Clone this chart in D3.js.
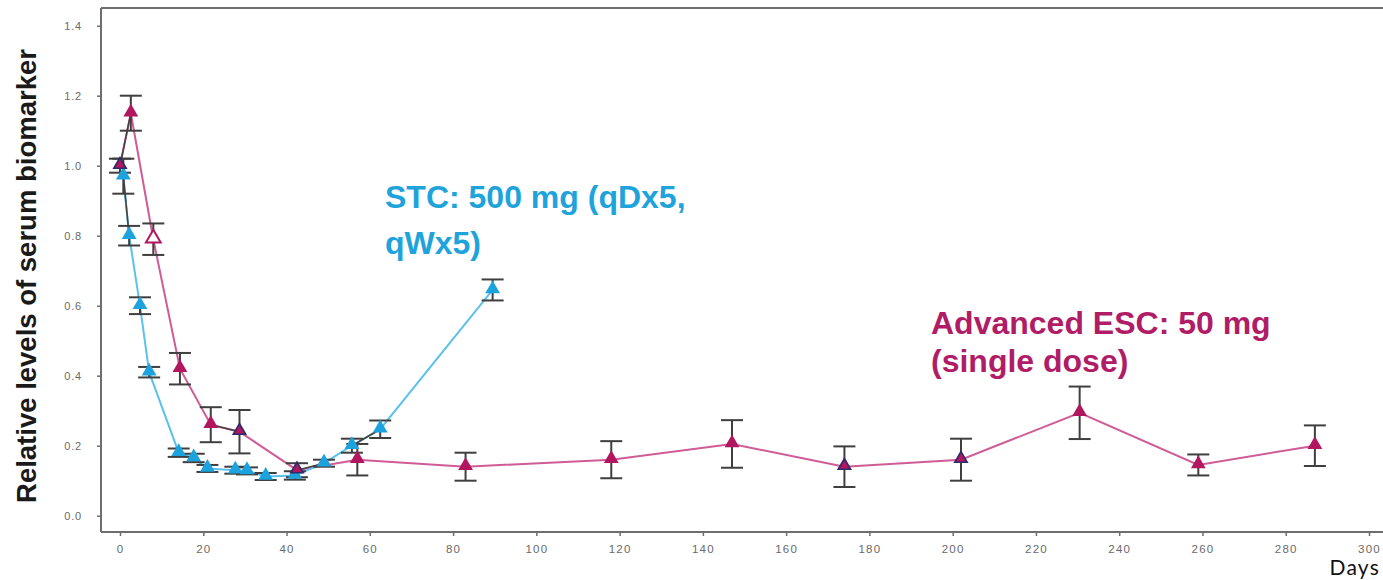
<!DOCTYPE html>
<html>
<head>
<meta charset="utf-8">
<script src="https://cdn.jsdelivr.net/npm/d3@7"></script>
<style>
  html, body { margin: 0; padding: 0; background: #fff; }
  svg { display: block; }
  .tick text { font-family: "Liberation Sans", Arial, sans-serif; fill: #6a6a6a; }
</style>
</head>
<body>
<svg id="chart" width="1383" height="580"></svg>
<script>
// Serum biomarker over time: two dosing regimens
// Advanced ESC (single 50 mg dose)
const escDays = [0, 2.6, 8, 14.4, 21.8, 28.7, 42.5, 57, 83, 118, 147, 174, 202, 230.5, 259, 287];
const escVals = [1.0, 1.15, 0.79, 0.42, 0.26, 0.24, 0.13, 0.16, 0.14, 0.16, 0.205, 0.14, 0.16, 0.294, 0.145, 0.20];
const escErr  = [0.02, 0.05, 0.045, 0.045, 0.05, 0.062, 0.02, 0.045, 0.04, 0.053, 0.068, 0.058, 0.06, 0.075, 0.03, 0.058];

// STC 500 mg (qDx5, qWx5)
const stcDays = [0.8, 2.2, 4.8, 7, 14.1, 17.7, 21, 27.7, 30.5, 35, 42, 49, 55.7, 62.5, 89.5];
const stcVals = [0.97, 0.80, 0.60, 0.41, 0.18, 0.165, 0.135, 0.13, 0.128, 0.112, 0.115, 0.15, 0.20, 0.247, 0.645];
const stcErr  = [0.05, 0.028, 0.024, 0.015, 0.012, 0.012, 0.01, 0.01, 0.01, 0.01, 0.012, 0.01, 0.02, 0.025, 0.03];

// Pooled reference segments (dark line)
const refSegDays = [[0, 2.6], [0.8, 2.2], [21.8, 28.7], [42.5, 49], [55.7, 62.5]];
const refSegVals = [[1.0, 1.15], [0.97, 0.80], [0.26, 0.24], [0.13, 0.15], [0.20, 0.247]];
// Reference points sitting beneath ESC markers
const refDays = [0, 28.7, 42.5, 174, 202];
const refVals = [1.0, 0.24, 0.13, 0.14, 0.16];

const yTicks = [0, 0.2, 0.4, 0.6, 0.8, 1.0, 1.2, 1.4];
const xTicks = d3.range(0, 301, 20);

const svg = d3.select("#chart");
const x = d3.scaleLinear().domain([0, 300]).range([120, 1369]);
const y = d3.scaleLinear().domain([0, 1.4]).range([515.7, 25.7]);

const axisColor = "#6e6e6e";
const frameLeft = 101, frameTop = 8, frameBottom = 532, frameRight = 1390;

// frame lines
svg.append("line").attr("x1", frameLeft).attr("x2", frameRight).attr("y1", frameTop).attr("y2", frameTop)
  .attr("stroke", axisColor).attr("stroke-width", 2);
svg.append("line").attr("x1", frameLeft).attr("x2", frameLeft).attr("y1", frameTop).attr("y2", frameBottom)
  .attr("stroke", axisColor).attr("stroke-width", 2);
svg.append("line").attr("x1", frameLeft).attr("x2", frameRight).attr("y1", frameBottom).attr("y2", frameBottom)
  .attr("stroke", axisColor).attr("stroke-width", 2);

// y axis
const yAxis = svg.append("g").attr("transform", `translate(${frameLeft},0)`)
  .call(d3.axisLeft(y).tickValues(yTicks).tickSize(4).tickPadding(15).tickFormat(d3.format(".1f")));
yAxis.select(".domain").remove();
yAxis.selectAll(".tick line").attr("stroke", axisColor).attr("stroke-width", 1.5);
yAxis.selectAll(".tick text").attr("font-size", 11).attr("letter-spacing", 0.8);

// x axis
const xAxis = svg.append("g").attr("transform", `translate(0,${frameBottom})`)
  .call(d3.axisBottom(x).tickValues(xTicks).tickSize(4).tickPadding(9));
xAxis.select(".domain").remove();
xAxis.selectAll(".tick line").attr("stroke", axisColor).attr("stroke-width", 1.5);
xAxis.selectAll(".tick text").attr("font-size", 11.5).attr("letter-spacing", 1.2);

// axis titles
svg.append("text")
  .attr("transform", "rotate(-90)")
  .attr("x", -276).attr("y", 36)
  .attr("text-anchor", "middle")
  .attr("font-family", "'Liberation Sans', Arial, sans-serif")
  .attr("font-weight", "bold").attr("font-size", 27.5).attr("fill", "#1a1a1a")
  .text("Relative levels of serum biomarker");

svg.append("text")
  .attr("x", 1380).attr("y", 575)
  .attr("text-anchor", "end")
  .attr("font-family", "Lato, 'Open Sans', sans-serif")
  .attr("font-size", 21).attr("letter-spacing", 1.2).attr("fill", "#111")
  .text("Days");

const escLine = "#cf5b97", escMark = "#b2165f";
const stcLine = "#5cc1ec", stcMark = "#1ca3dd";
const errColor = "#3f3f3f";
const navy = "#2f2b6b";

const toPts = (days, vals) => days.map((d, i) => ({ d, v: vals[i] }));
const esc = toPts(escDays, escVals).map((p, i) => ({ ...p, e: escErr[i] }));
const stc = toPts(stcDays, stcVals).map((p, i) => ({ ...p, e: stcErr[i] }));
const line = d3.line().x(p => x(p.d)).y(p => y(p.v));

// series lines
svg.append("path").datum(esc).attr("d", line).attr("fill", "none")
  .attr("stroke", escLine).attr("stroke-width", 2);
svg.append("path").datum(stc).attr("d", line).attr("fill", "none")
  .attr("stroke", stcLine).attr("stroke-width", 2);
refSegDays.forEach((seg, i) => {
  svg.append("path").datum(toPts(seg, refSegVals[i])).attr("d", line).attr("fill", "none")
    .attr("stroke", "#444").attr("stroke-width", 1.6);
});

// error bars
function errorBars(data) {
  const g = svg.append("g").attr("stroke", errColor).attr("stroke-width", 2).attr("fill", "none");
  data.forEach(p => {
    const cx = x(p.d), y1 = y(p.v + p.e), y2 = y(p.v - p.e);
    g.append("line").attr("x1", cx).attr("x2", cx).attr("y1", y1).attr("y2", y2);
    g.append("line").attr("x1", cx - 11).attr("x2", cx + 11).attr("y1", y1).attr("y2", y1);
    g.append("line").attr("x1", cx - 11).attr("x2", cx + 11).attr("y1", y2).attr("y2", y2);
  });
}
errorBars(esc);
errorBars(stc);

// markers
const tri = d3.symbol().type(d3.symbolTriangle);
const hollowDay = 8;

svg.append("g").selectAll("path").data(stc).join("path")
  .attr("d", tri.size(95)())
  .attr("transform", p => `translate(${x(p.d)},${y(p.v) - 1})`)
  .attr("fill", stcMark);

svg.append("g").selectAll("path").data(toPts(refDays, refVals)).join("path")
  .attr("d", tri.size(100)())
  .attr("transform", p => `translate(${x(p.d)},${y(p.v) - 1})`)
  .attr("fill", navy);

svg.append("g").selectAll("path").data(esc).join("path")
  .attr("d", p => tri.size(refDays.includes(p.d) ? 38 : 95)())
  .attr("transform", p => `translate(${x(p.d)},${y(p.v) - 1})`)
  .attr("fill", p => p.d === hollowDay ? "#fff" : escMark)
  .attr("stroke", p => p.d === hollowDay ? escMark : "none")
  .attr("stroke-width", 2);

// series labels
const labelFont = "'Liberation Sans', Arial, sans-serif";
const stcLabel = svg.append("text").attr("font-family", labelFont).attr("font-weight", "bold")
  .attr("font-size", 32).attr("fill", "#1ea3da");
stcLabel.append("tspan").attr("x", 385).attr("y", 208).text("STC: 500 mg (qDx5,");
stcLabel.append("tspan").attr("x", 385).attr("y", 254).text("qWx5)");

const escLabel = svg.append("text").attr("font-family", labelFont).attr("font-weight", "bold")
  .attr("font-size", 32).attr("fill", "#b01c66");
escLabel.append("tspan").attr("x", 931).attr("y", 334).text("Advanced ESC: 50 mg");
escLabel.append("tspan").attr("x", 931).attr("y", 372).text("(single dose)");
</script>
</body>
</html>
